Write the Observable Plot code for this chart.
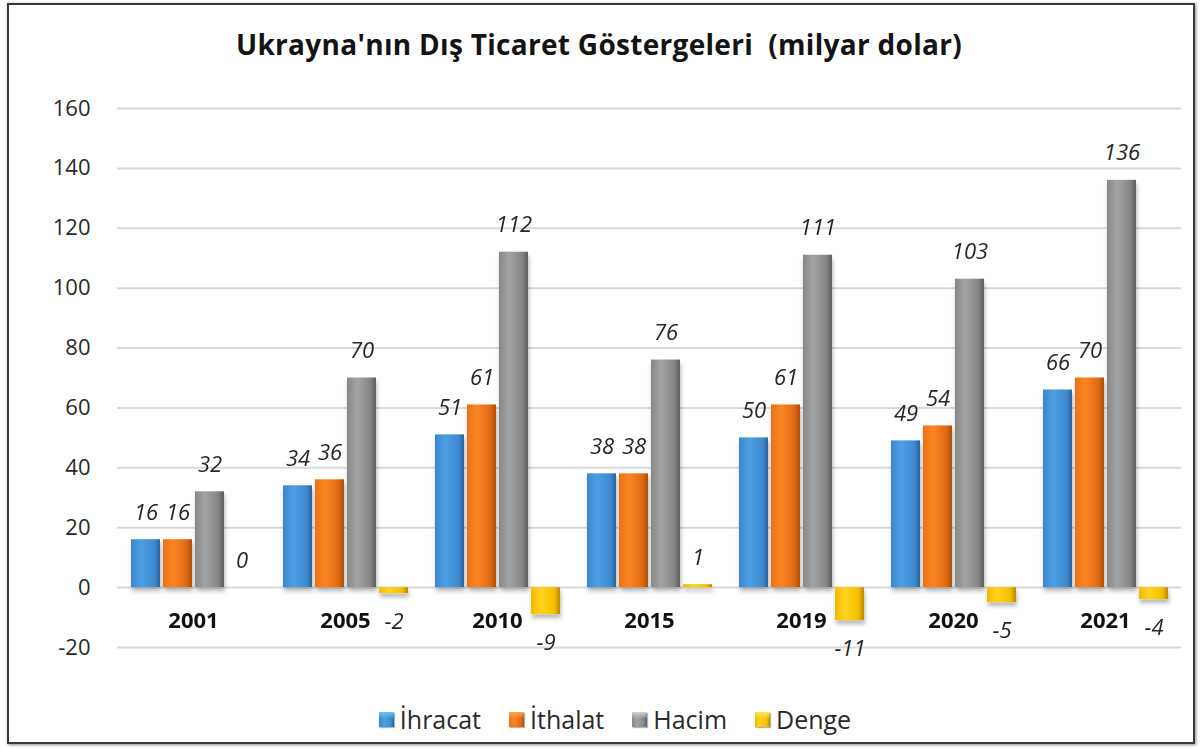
<!DOCTYPE html>
<html><head><meta charset="utf-8">
<script src="https://cdn.jsdelivr.net/npm/d3@7"></script>
<script src="https://cdn.jsdelivr.net/npm/@observablehq/plot@0.6"></script>
<style>
body{margin:0;background:#fff;font-family:"Open Sans",sans-serif;}
#frame{position:absolute;left:7px;top:3px;width:1184px;height:737px;border:2.5px solid #3a3a3a;box-shadow:1px 1px 3px rgba(0,0,0,.45);}
#title{position:absolute;left:0;top:25px;width:1198px;text-align:center;font-weight:700;font-size:28px;letter-spacing:0.3px;color:#141414;white-space:pre;}
#chart{position:absolute;left:0;top:80px;}
#legend{position:absolute;top:702px;left:0;width:1230px;display:flex;justify-content:center;align-items:center;font-size:25px;color:#2a2a2a;}
#legend .item{display:flex;align-items:center;margin:0 14px;}
#legend .sw{width:15px;height:15px;margin-right:6px;box-shadow:1px 1px 1px rgba(0,0,0,.3);}
</style></head>
<body>
<div id="frame"></div>
<div id="title">Ukrayna'nın Dış Ticaret Göstergeleri  (milyar dolar)</div>
<div id="chart"></div>
<div id="legend"></div>
<script>
const years = ["2001","2005","2010","2015","2019","2020","2021"];
const series = ["İhracat","İthalat","Hacim","Denge"];
const ihracat = [16,34,51,38,50,49,66];
const ithalat = [16,36,61,38,61,54,70];
const hacim = [32,70,112,76,111,103,136];
const denge = [0,-2,-9,1,-11,-5,-4];
const yTicks = [-20,0,20,40,60,80,100,120,140,160];

const gradients = [
  {id:"gBlue", stops:["#3b86cf","#4c9fe2","#3f8ad3","#2a6299"], cap:"#6cc4f2"},
  {id:"gOrange", stops:["#ea7215","#fb8524","#e06a12","#ad4e0b"], cap:"#ffa650"},
  {id:"gGray", stops:["#888888","#a3a3a3","#858585","#5e5e5e"], cap:"#d0d0d0"},
  {id:"gYellow", stops:["#f2bb00","#ffd21f","#f5bf00","#b88a00"], cap:"#ffe45c"}
];

const valuesBySeries = [ihracat, ithalat, hacim, denge];
const data = years.flatMap((y, i) => series.map((s, j) => ({year: y, series: s, value: valuesBySeries[j][i]})));

const chart = Plot.plot({
  width: 1200,
  height: 600,
  marginTop: 28,
  marginBottom: 33,
  marginLeft: 115,
  marginRight: 18,
  style: {fontFamily: "'Open Sans', sans-serif", fontSize: "22px", color: "#333", background: "transparent", overflow: "visible"},
  fx: {domain: years, padding: 0, axis: null, label: null},
  x: {domain: series, paddingInner: 0.1, paddingOuter: 0.36, axis: null, label: null},
  y: {domain: [-20, 160], axis: null, label: null},
  color: {domain: series, range: gradients.map(g => `url(#${g.id})`)},
  marks: [
    Plot.gridY(yTicks, {stroke: "#d9d9d9", strokeOpacity: 1, strokeWidth: 2}),
    Plot.axisY(yTicks, {tickSize: 0, tickPadding: 27, fontSize: 22, fill: "#2a2a2a", label: null, tickFormat: d => String(d)}),
    Plot.barY(data, {fx: "year", x: "series", y: "value", fill: "series"}),
    Plot.text(data, {filter: d => d.value >= 0, fx: "year", x: "series", y: "value", text: d => String(d.value), dy: -27, fontStyle: "italic", fontSize: 22, fill: "#262626"}),
    Plot.text(data, {filter: d => d.value < 0, fx: "year", x: "series", y: "value", text: d => String(d.value), dy: 28, fontStyle: "italic", fontSize: 22, fill: "#262626"}),
    Plot.text(years, {fx: d => d, y: () => 0, text: d => d, dy: 33, fontWeight: "bold", fontSize: 22, fill: "#111"})
  ]
});

const svg = d3.select(chart);
const defs = svg.insert("defs", ":first-child");
for (const g of gradients) {
  const lg = defs.append("linearGradient").attr("id", g.id).attr("x1", 0).attr("x2", 1).attr("y1", 0).attr("y2", 0);
  [0, 0.35, 0.8, 1].forEach((o, k) => lg.append("stop").attr("offset", o).attr("stop-color", g.stops[k]));
}
const f = defs.append("filter").attr("id", "shadow").attr("x", "-20%").attr("y", "-20%").attr("width", "140%").attr("height", "140%");
f.append("feDropShadow").attr("dx", 1).attr("dy", 4).attr("stdDeviation", 2).attr("flood-color", "#000").attr("flood-opacity", 0.28);
svg.selectAll("g[aria-label='bar']").attr("filter", "url(#shadow)");

document.getElementById("chart").appendChild(chart);

const legend = document.getElementById("legend");
series.forEach((s, j) => {
  const g = gradients[j];
  const item = document.createElement("div");
  item.className = "item";
  const sw = document.createElement("div");
  sw.className = "sw";
  sw.style.background = `linear-gradient(to bottom, ${g.cap}, rgba(255,255,255,0) 45%), linear-gradient(to right, ${g.stops[0]}, ${g.stops[1]} 35%, ${g.stops[2]} 80%, ${g.stops[3]})`;
  const t = document.createElement("span");
  t.textContent = s;
  item.appendChild(sw);
  item.appendChild(t);
  legend.appendChild(item);
});
</script>
</body></html>
